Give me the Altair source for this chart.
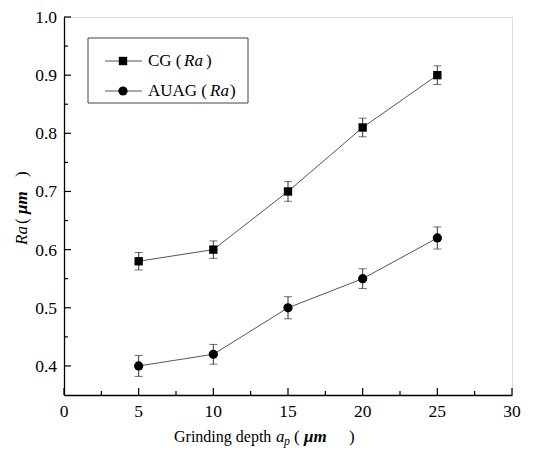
import altair as alt
import pandas as pd

# ---- data ----
depths = [5, 10, 15, 20, 25]
cg_ra = [0.58, 0.60, 0.70, 0.81, 0.90]
cg_err = [0.015, 0.015, 0.017, 0.016, 0.016]
auag_ra = [0.40, 0.42, 0.50, 0.55, 0.62]
auag_err = [0.018, 0.017, 0.019, 0.017, 0.019]
series_names = ["CG", "AUAG"]

x_major = [0, 5, 10, 15, 20, 25, 30]
x_labels = ["0", "5", "10", "15", "20", "25", "30"]
x_minor = [2.5, 7.5, 12.5, 17.5, 22.5, 27.5]
y_major = [0.4, 0.5, 0.6, 0.7, 0.8, 0.9, 1.0]
y_labels = ["0.4", "0.5", "0.6", "0.7", "0.8", "0.9", "1.0"]
y_minor = [0.45, 0.55, 0.65, 0.75, 0.85, 0.95]

rows = []
for s, vals, errs in [("CG", cg_ra, cg_err), ("AUAG", auag_ra, auag_err)]:
    for d, v, e in zip(depths, vals, errs):
        rows.append({"depth": d, "ra": v, "lo": v - e, "hi": v + e, "series": s})
df = pd.DataFrame(rows)

W, H = 448, 378
FONT = "Liberation Serif"
LBL = 17.5

xscale = alt.Scale(domain=[0, 30], nice=False, zero=False)
yscale = alt.Scale(domain=[0.35, 1.0], nice=False, zero=False)
xaxis = alt.Axis(values=x_major, title=None, ticks=False, grid=False, labels=False,
                 domainColor="black", domainWidth=1.3)
yaxis = alt.Axis(values=y_major, title=None, ticks=False, grid=False, labels=False,
                 domainColor="black", domainWidth=1.3)

base = alt.Chart(df)
X = alt.X("depth:Q", scale=xscale, axis=xaxis)

lines = base.mark_line(color="#555555", strokeWidth=1).encode(
    x=X, y=alt.Y("ra:Q", scale=yscale, axis=yaxis), detail="series:N")
err = base.mark_rule(color="#333333", strokeWidth=1).encode(
    x=X, y=alt.Y("lo:Q", scale=yscale, axis=yaxis), y2="hi:Q")
cap_lo = base.mark_tick(orient="horizontal", size=8, thickness=1, color="#333333").encode(
    x=X, y=alt.Y("lo:Q", scale=yscale, axis=yaxis))
cap_hi = base.mark_tick(orient="horizontal", size=8, thickness=1, color="#333333").encode(
    x=X, y=alt.Y("hi:Q", scale=yscale, axis=yaxis))
pts = base.mark_point(filled=True, opacity=1, color="black").encode(
    x=X, y=alt.Y("ra:Q", scale=yscale, axis=yaxis),
    shape=alt.Shape("series:N", scale=alt.Scale(domain=series_names, range=["square", "circle"]), legend=None),
    size=alt.Size("series:N", scale=alt.Scale(domain=series_names, range=[70, 85]), legend=None))

xt_df = pd.DataFrame({"v": x_major, "t": x_labels})
yt_df = pd.DataFrame({"v": y_major, "t": y_labels})

# inward tick marks
xmaj = alt.Chart(xt_df).mark_rule(color="black", strokeWidth=1.2).encode(
    x=alt.X("v:Q", scale=xscale, axis=xaxis), y=alt.value(H), y2=alt.value(H - 7))
xmin = alt.Chart(pd.DataFrame({"v": x_minor})).mark_rule(color="black", strokeWidth=1.2).encode(
    x=alt.X("v:Q", scale=xscale, axis=xaxis), y=alt.value(H), y2=alt.value(H - 4))
ymaj = alt.Chart(yt_df).mark_rule(color="black", strokeWidth=1.2).encode(
    y=alt.Y("v:Q", scale=yscale, axis=yaxis), x=alt.value(0), x2=alt.value(7))
ymin = alt.Chart(pd.DataFrame({"v": y_minor})).mark_rule(color="black", strokeWidth=1.2).encode(
    y=alt.Y("v:Q", scale=yscale, axis=yaxis), x=alt.value(0), x2=alt.value(4))

# tick labels
xlab = alt.Chart(xt_df).mark_text(font=FONT, fontSize=LBL, color="black", baseline="middle", align="center").encode(
    x=alt.X("v:Q", scale=xscale, axis=xaxis), y=alt.value(H + 17), text="t:N")
ylab = alt.Chart(yt_df).mark_text(font=FONT, fontSize=LBL, color="black", baseline="middle", align="right", dy=1).encode(
    y=alt.Y("v:Q", scale=yscale, axis=yaxis), x=alt.value(-7), text="t:N")

one = pd.DataFrame({"k": [0]})

def txt(s, x, y, size=17, style="normal", weight="normal", angle=0, align="left"):
    return alt.Chart(one).mark_text(text=s, font=FONT, fontSize=size, fontStyle=style,
                                    fontWeight=weight, angle=angle, align=align,
                                    baseline="middle", color="black").encode(
        x=alt.value(x), y=alt.value(y))

# legend box
box = alt.Chart(one).mark_rect(fill="white", stroke="#444444", strokeWidth=1).encode(
    x=alt.value(24), x2=alt.value(184), y=alt.value(21), y2=alt.value(86))
leg_line1 = alt.Chart(one).mark_rule(color="#555555", strokeWidth=1).encode(
    x=alt.value(41), x2=alt.value(78), y=alt.value(44))
leg_line2 = alt.Chart(one).mark_rule(color="#555555", strokeWidth=1).encode(
    x=alt.value(41), x2=alt.value(78), y=alt.value(74))
leg_sq = alt.Chart(one).mark_point(shape="square", filled=True, opacity=1, color="black", size=70).encode(
    x=alt.value(59), y=alt.value(44))
leg_ci = alt.Chart(one).mark_point(shape="circle", filled=True, opacity=1, color="black", size=85).encode(
    x=alt.value(59), y=alt.value(74))

legend_texts = [
    txt("CG (", 84, 44), txt("Ra", 120, 44, style="italic"), txt(")", 142, 44),
    txt("AUAG (", 84, 74), txt("Ra", 146, 74, style="italic"), txt(")", 166, 74),
]

# x title: Grinding depth a_p ( μm )
xt_y = 420
x_title = [
    txt("Grinding depth", 110, xt_y, size=16),
    txt("a", 212, xt_y, style="italic"),
    txt("p", 220, xt_y + 4, size=12, style="italic"),
    txt("(", 230, xt_y),
    txt("μm", 240, xt_y, style="italic", weight="bold"),
    txt(")", 285, xt_y),
]

# y title: Ra ( μm ) rotated
yt_x = -42
y_title = [
    txt("Ra", yt_x, 228, style="italic", angle=270),
    txt("(", yt_x, 207, angle=270),
    txt("μm", yt_x, 197, style="italic", weight="bold", angle=270),
    txt(")", yt_x, 160, angle=270),
]

chart = alt.layer(
    lines, err, cap_lo, cap_hi, pts, xmaj, xmin, ymaj, ymin, xlab, ylab,
    box, leg_line1, leg_line2, leg_sq, leg_ci,
    *legend_texts, *x_title, *y_title,
).properties(
    width=W, height=H,
    autosize=alt.AutoSizeParams(type="none"),
    padding={"left": 56, "top": 9, "right": 20, "bottom": 60},
).configure_view(stroke="black", strokeWidth=1.3).configure(background="white")

chart.save("out.html", embed_options={"renderer": "svg", "actions": False})
